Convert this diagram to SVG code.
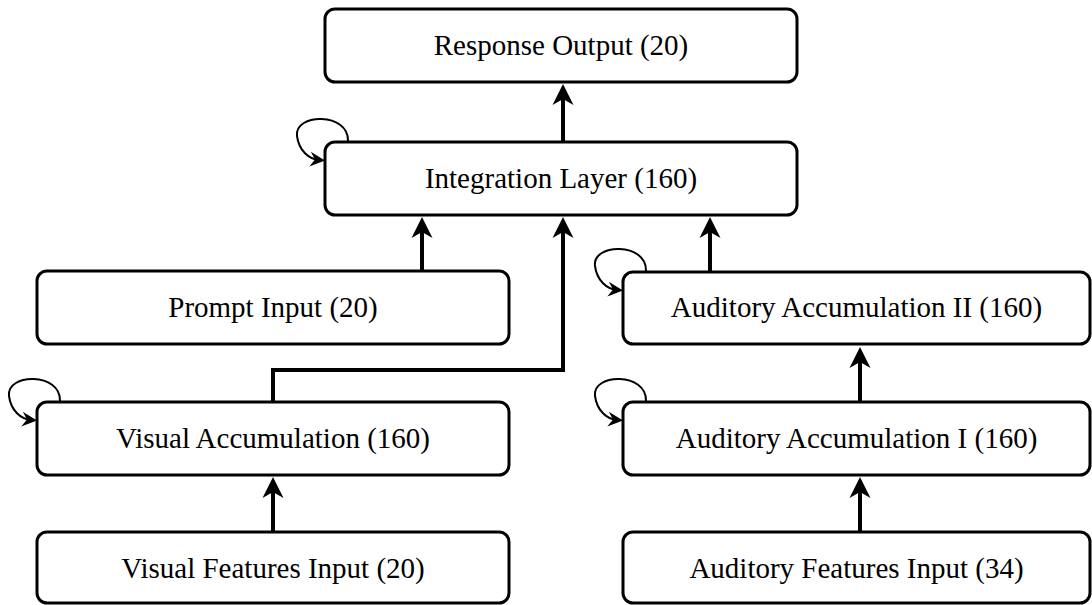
<svg xmlns="http://www.w3.org/2000/svg" width="1092" height="605" viewBox="0 0 1092 605">
  <style>
    .box { fill: #ffffff; stroke: #000000; stroke-width: 3; }
    .label { font-family: "Liberation Serif", "Times New Roman", serif; font-size: 29px; fill: #000000; text-anchor: middle; }
    .edge { fill: none; stroke: #000000; stroke-width: 4; marker-end: url(#arrow); }
    .loop { fill: none; stroke: #000000; stroke-width: 2; marker-end: url(#loopArrow); }
  </style>
  <defs>
    <marker id="arrow" viewBox="-22 -11 22 22" refX="-12" refY="0" markerWidth="22" markerHeight="22" markerUnits="userSpaceOnUse" orient="auto">
      <path d="M0,0 L-21,-10.5 L-15,0 L-21,10.5 z" fill="#000000"/>
    </marker>
    <marker id="loopArrow" viewBox="-16 -8 16 16" refX="-6" refY="0" markerWidth="16" markerHeight="16" markerUnits="userSpaceOnUse" orient="auto">
      <path d="M0,0 L-15,-7.5 L-10,0 L-15,7.5 z" fill="#000000"/>
    </marker>
    <path id="selfloop" d="M23,-1 C24,-30 -31,-29 -28,-6 C-26,9 -16,17 -6,18"/>
  </defs>

  <g id="connectors">
    <path class="edge" d="M563,142 L563,96"/>
    <path class="edge" d="M422,271 L422,229"/>
    <path class="edge" d="M273,402 L273,370 L563,370 L563,229"/>
    <path class="edge" d="M710,272 L710,229"/>
    <path class="edge" d="M860,402 L860,359"/>
    <path class="edge" d="M860,532 L860,489"/>
    <path class="edge" d="M273,532 L273,489"/>
    <use href="#selfloop" class="loop" transform="translate(325,142)"/>
    <use href="#selfloop" class="loop" transform="translate(623,272)"/>
    <use href="#selfloop" class="loop" transform="translate(37,402)"/>
    <use href="#selfloop" class="loop" transform="translate(623,402)"/>
  </g>

  <g id="response-output">
    <rect class="box" x="325" y="9" width="472" height="73" rx="10"/>
    <text class="label" x="561" y="55">Response Output (20)</text>
  </g>
  <g id="integration-layer">
    <rect class="box" x="325" y="142" width="472" height="73" rx="10"/>
    <text class="label" x="561" y="188">Integration Layer (160)</text>
  </g>
  <g id="prompt-input">
    <rect class="box" x="37" y="271" width="472" height="73" rx="10"/>
    <text class="label" x="273" y="317">Prompt Input (20)</text>
  </g>
  <g id="auditory-accumulation-2">
    <rect class="box" x="623" y="272" width="467" height="72" rx="10"/>
    <text class="label" x="856.5" y="317">Auditory Accumulation II (160)</text>
  </g>
  <g id="visual-accumulation">
    <rect class="box" x="37" y="402" width="472" height="73" rx="10"/>
    <text class="label" x="273" y="448">Visual Accumulation (160)</text>
  </g>
  <g id="auditory-accumulation-1">
    <rect class="box" x="623" y="402" width="467" height="73" rx="10"/>
    <text class="label" x="856.5" y="448">Auditory Accumulation I (160)</text>
  </g>
  <g id="visual-features-input">
    <rect class="box" x="37" y="532" width="472" height="71" rx="10"/>
    <text class="label" x="273" y="578">Visual Features Input (20)</text>
  </g>
  <g id="auditory-features-input">
    <rect class="box" x="623" y="532" width="467" height="71" rx="10"/>
    <text class="label" x="856.5" y="578">Auditory Features Input (34)</text>
  </g>
</svg>
